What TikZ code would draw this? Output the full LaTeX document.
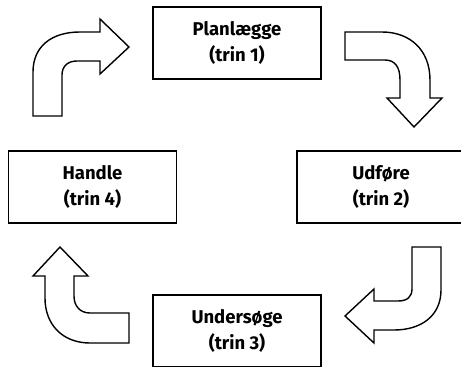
\documentclass[tikz,border=0pt]{standalone}
\usepackage{fontspec}
\setmainfont{Fira Sans}

\begin{document}
\begin{tikzpicture}[x=1pt,y=-1pt,
	stepbox/.style={draw,line width=1.8pt,minimum width=168pt,minimum height=72pt,align=center,inner sep=0pt,font=\fontsize{18.5}{25.5}\selectfont\bfseries},
	turnarrow/.style={draw,line width=1.4pt,line join=miter,fill=white}]
		\useasboundingbox (0,0) rectangle (461,367);

		\node[stepbox] (plan) at (237,43) {Planlægge\\(trin 1)};
		\node[stepbox] (udfor) at (381,187) {Udføre\\(trin 2)};
		\node[stepbox] (under) at (237,331) {Undersøge\\(trin 3)};
		\node[stepbox] (handle) at (92.5,187) {Handle\\(trin 4)};

		\draw[turnarrow] (33,116) -- (33,72) .. controls (33,46) and (52,32) .. (80,32) -- (100,32) -- (100,19) -- (129,47) -- (100,74) -- (100,61) -- (77,61) .. controls (68,61) and (62,66) .. (62,75) -- (62,116) -- cycle;

		\draw[turnarrow] (345,32) -- (382,32) .. controls (410,32) and (430,50) .. (430,80) -- (430,98) -- (442,98) -- (414,127) -- (387,98) -- (400,98) -- (400,80) .. controls (400,67) and (395,60) .. (385,60) -- (345,60) -- cycle;

		\draw[turnarrow] (412,247) -- (441,247) -- (441,290) .. controls (441,316) and (421,330) .. (394,330) -- (374,330) -- (374,343) -- (345,316) -- (374,289) -- (374,301) -- (398,301) .. controls (407,301) and (412,297) .. (412,289) -- cycle;

		\draw[turnarrow] (129,313) -- (129,343) -- (90,343) .. controls (63,343) and (45,325) .. (45,298) -- (45,276) -- (33,276) -- (60,247) -- (88,276) -- (74,276) -- (74,296) .. controls (74,306) and (80,313) .. (90,313) -- cycle;
	\end{tikzpicture}
\end{document}
